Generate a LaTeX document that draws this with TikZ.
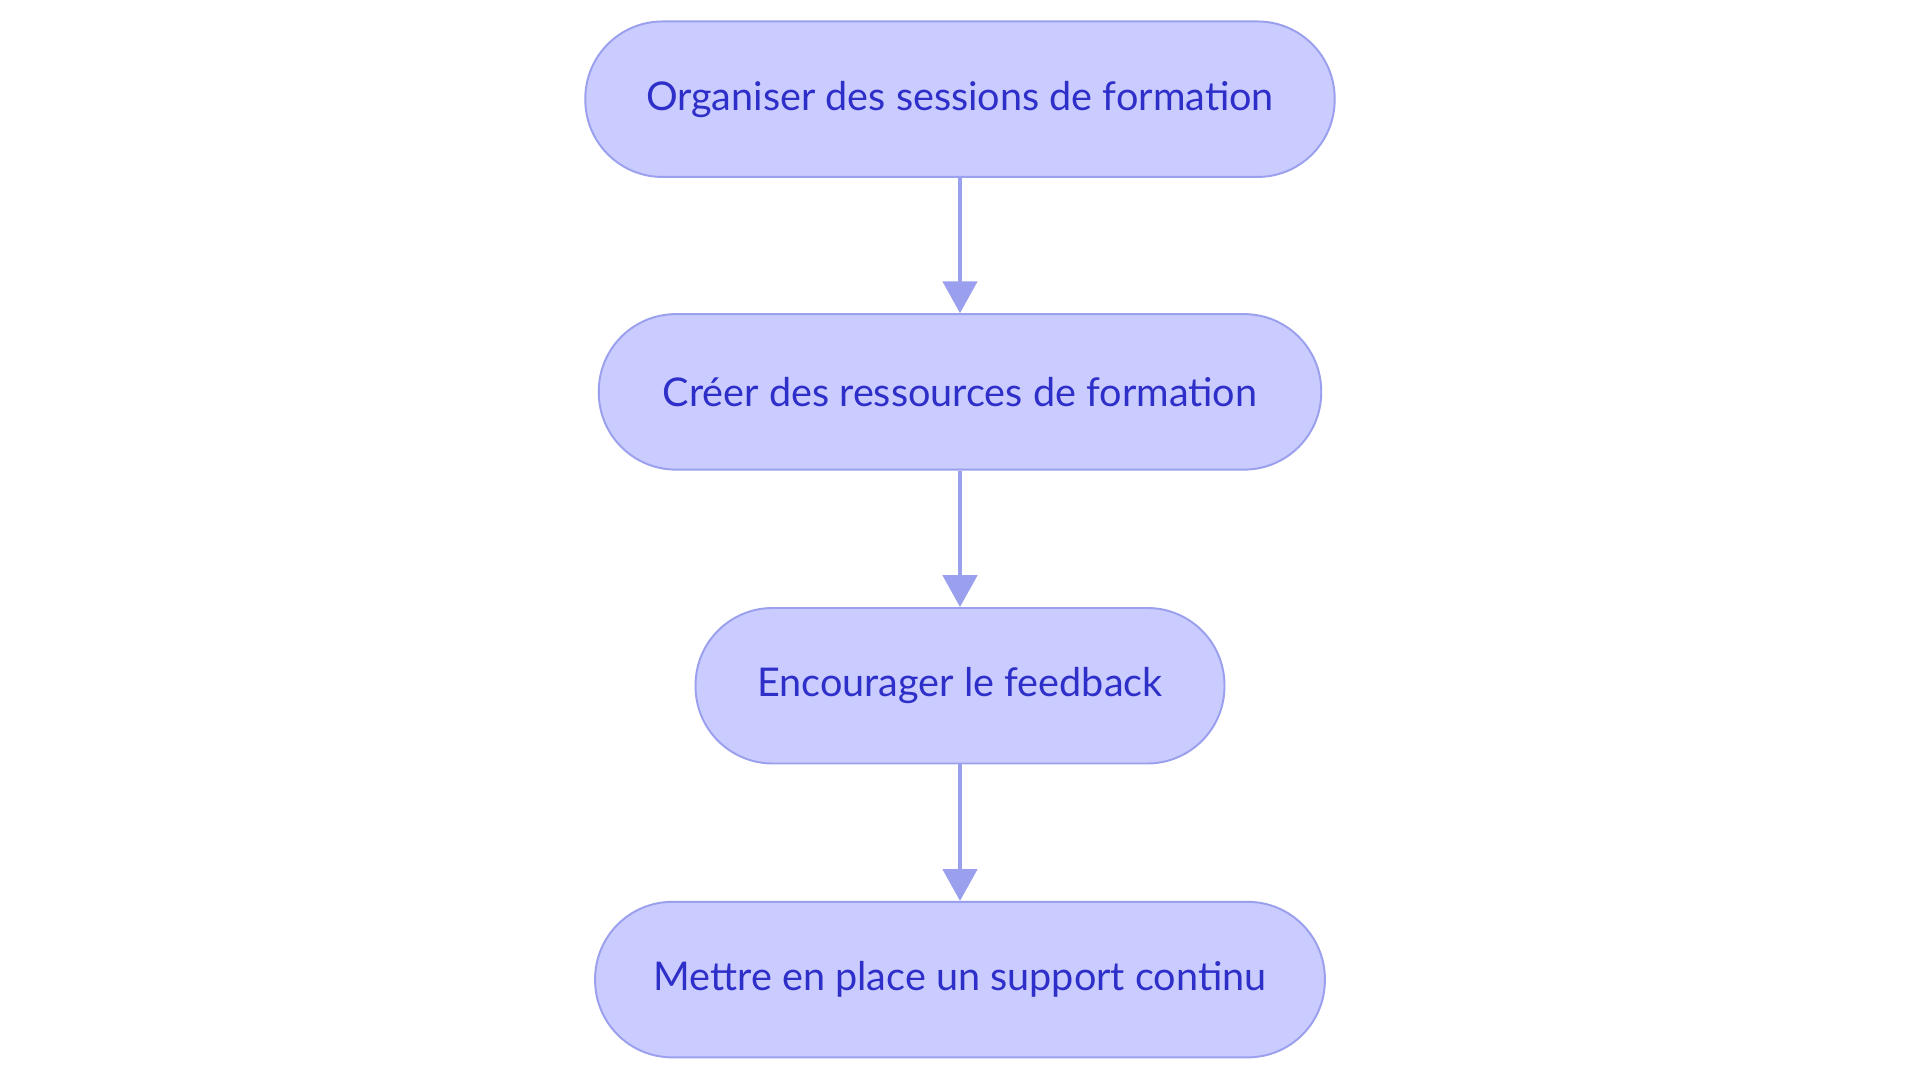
\documentclass[tikz,border=0pt]{standalone}
\usepackage{fontspec}
\setmainfont{Lato}
\usetikzlibrary{arrows.meta}
\definecolor{fillc}{HTML}{CACBFE}
\definecolor{linec}{HTML}{9A9FEE}
\definecolor{textc}{HTML}{2E2FC8}
\begin{document}
\begin{tikzpicture}[x=0.1mm,y=-0.1mm,
  box/.style={draw=linec,line width=0.45pt,fill=fillc,rounded corners=6.3mm,minimum height=12.7mm,text=textc,font=\fontsize{9.2pt}{11pt}\selectfont,inner sep=0pt},
  arr/.style={draw=linec,line width=0.9pt,-{Triangle[length=2.6mm,width=2.8mm]}}]
\useasboundingbox[fill=white] (0,0) rectangle (1568,884);
\node[box,minimum width=61.2mm] (a) at (784,81) {Organiser des sessions de formation};
\node[box,minimum width=59mm] (b) at (784,320) {Créer des ressources de formation};
\node[box,minimum width=43.2mm] (c) at (784,560) {Encourager le feedback};
\node[box,minimum width=59.6mm] (d) at (784,800) {Mettre en place un support continu};
\draw[arr] (a) -- (b);
\draw[arr] (b) -- (c);
\draw[arr] (c) -- (d);
\end{tikzpicture}
\end{document}
